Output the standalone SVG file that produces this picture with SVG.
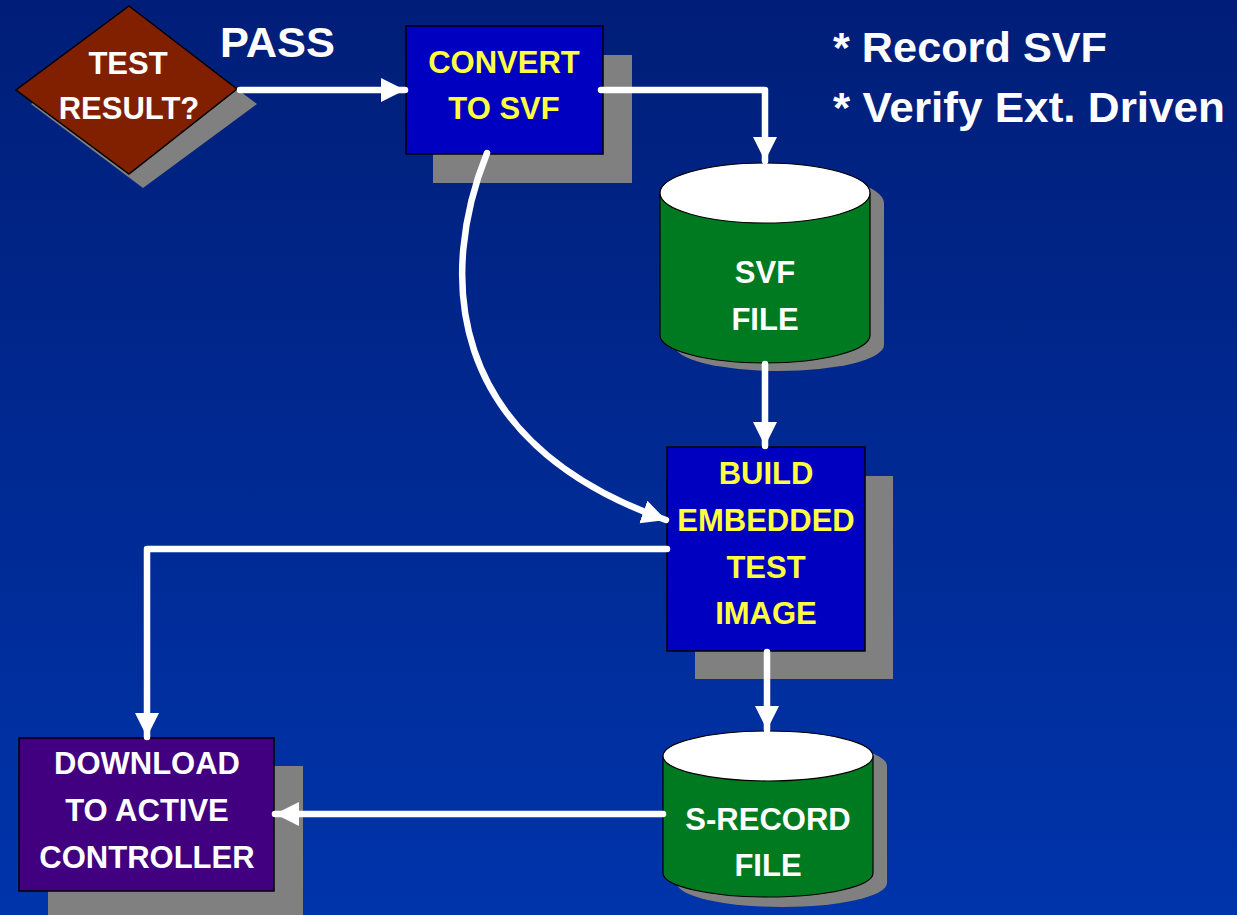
<svg xmlns="http://www.w3.org/2000/svg" width="1237" height="915" viewBox="0 0 1237 915">
  <defs>
    <linearGradient id="bg" x1="0" y1="0" x2="0" y2="1">
      <stop offset="0" stop-color="#001E78"/>
      <stop offset="1" stop-color="#0034AB"/>
    </linearGradient>
    <marker id="head" markerUnits="userSpaceOnUse" markerWidth="26" markerHeight="26" viewBox="0 0 26 26" refX="24" refY="13" orient="auto">
      <path d="M0,1 L24,13 L0,25 Z" fill="#FFFFFF"/>
    </marker>
    <style>
      .shadow { fill: #808080; }
      .box { stroke: #000000; stroke-width: 1.5; }
      .proc { fill: #0000C0; }
      .db { fill: #007A20; stroke: #000000; stroke-width: 1.2; }
      .dbtop { fill: #FFFFFF; stroke: #000000; stroke-width: 1.2; }
      .lbl { font-family: "Liberation Sans", Arial, sans-serif; font-weight: bold; font-size: 31px; text-anchor: middle; }
      .yel { fill: #FFFF40; }
      .wht { fill: #FFFFFF; }
      .big { font-family: "Liberation Sans", Arial, sans-serif; font-weight: bold; font-size: 42px; fill: #FFFFFF; }
      .wire { fill: none; stroke: #FFFFFF; stroke-width: 6.5; stroke-linecap: round; stroke-linejoin: round; }
    </style>
  </defs>

  <rect width="1237" height="915" fill="url(#bg)"/>

  <!-- decision diamond -->
  <g id="test-result">
    <polygon class="shadow" points="145,20 257,104 143,188 31,104"/>
    <polygon class="box" fill="#802000" points="129,6 237,89 129,174 16,90"/>
    <text class="lbl wht" x="128" y="74">TEST</text>
    <text class="lbl wht" x="129" y="119">RESULT?</text>
  </g>

  <g id="pass-label">
    <text class="big" x="220" y="57" textLength="115" lengthAdjust="spacingAndGlyphs">PASS</text>
  </g>

  <g id="notes">
    <text class="big" x="833" y="62" textLength="274" lengthAdjust="spacingAndGlyphs">* Record SVF</text>
    <text class="big" x="833" y="122" textLength="392" lengthAdjust="spacingAndGlyphs">* Verify Ext. Driven</text>
  </g>

  <g id="convert">
    <rect class="shadow" x="433" y="55" width="199" height="128"/>
    <rect class="box proc" x="406" y="26" width="197" height="128"/>
    <text class="lbl yel" x="504" y="73">CONVERT</text>
    <text class="lbl yel" x="504" y="119">TO SVF</text>
  </g>

  <g id="svf-file">
    <path class="shadow" d="M674,203 A105,30 0 0 1 884,203 L884,345 A105,26 0 0 1 674,345 Z"/>
    <path class="db" d="M660,193 L660,335 A105,28 0 0 0 870,335 L870,193 Z"/>
    <ellipse class="dbtop" cx="765" cy="193" rx="105" ry="30"/>
    <text class="lbl wht" x="765" y="283">SVF</text>
    <text class="lbl wht" x="765" y="330">FILE</text>
  </g>

  <g id="build">
    <rect class="shadow" x="695" y="476" width="198" height="203"/>
    <rect class="box proc" x="667" y="447" width="198" height="204"/>
    <text class="lbl yel" x="766" y="484">BUILD</text>
    <text class="lbl yel" x="766" y="531">EMBEDDED</text>
    <text class="lbl yel" x="766" y="578">TEST</text>
    <text class="lbl yel" x="766" y="624">IMAGE</text>
  </g>

  <g id="s-record-file">
    <path class="shadow" d="M677,766 A105,25 0 0 1 887,766 L887,883 A105,24 0 0 1 677,883 Z"/>
    <path class="db" d="M663,756 L663,873 A105,24 0 0 0 873,873 L873,756 Z"/>
    <ellipse class="dbtop" cx="768" cy="756" rx="105" ry="25"/>
    <text class="lbl wht" x="768" y="830">S-RECORD</text>
    <text class="lbl wht" x="768" y="876">FILE</text>
  </g>

  <g id="download">
    <rect class="shadow" x="48" y="766" width="255" height="160"/>
    <rect class="box" fill="#400080" x="19" y="738" width="255" height="153"/>
    <text class="lbl wht" x="147" y="774">DOWNLOAD</text>
    <text class="lbl wht" x="147" y="821">TO ACTIVE</text>
    <text class="lbl wht" x="147" y="868">CONTROLLER</text>
  </g>

  <g id="connectors">
    <path class="wire" marker-end="url(#head)" d="M240,90 L405,90"/>
    <path class="wire" marker-end="url(#head)" d="M601,90 L765,90 L765,161"/>
    <path class="wire" marker-end="url(#head)" d="M487,153 C440,270 440,440 666,520"/>
    <path class="wire" marker-end="url(#head)" d="M765,364 L765,446"/>
    <path class="wire" marker-end="url(#head)" d="M667,549 L147,549 L147,737"/>
    <path class="wire" marker-end="url(#head)" d="M767,652 L767,730"/>
    <path class="wire" marker-end="url(#head)" d="M663,814 L275,814"/>
  </g>
</svg>
